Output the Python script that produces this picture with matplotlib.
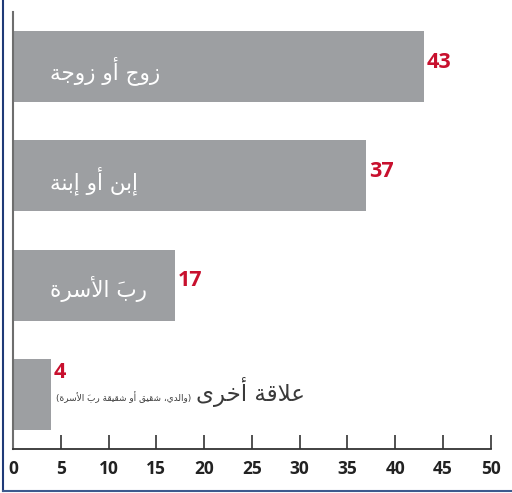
import matplotlib
matplotlib.use("Agg")
import matplotlib.pyplot as plt
from matplotlib.lines import Line2D

BAR_COLOR = "#9d9fa2"
VALUE_COLOR = "#c8102e"
TEXT_DARK = "#3a3a3a"

labels = ["زوج أو زوجة", "إبن أو إبنة", "ربَ الأسرة", "علاقة أخرى"]
note = "والدي، شقيق أو شقيقة ربَ الأسرة"
values = [43, 37, 17, 4]
ticks = [0, 5, 10, 15, 20, 25, 30, 35, 40, 45, 50]

# --- minimal Arabic shaping (matplotlib has no complex text layout) ---
FORMS = {
    "ا": (0xFE8D, 0xFE8E), "أ": (0xFE83, 0xFE84), "إ": (0xFE87, 0xFE88),
    "ة": (0xFE93, 0xFE94), "د": (0xFEA9, 0xFEAA), "ر": (0xFEAD, 0xFEAE),
    "ز": (0xFEAF, 0xFEB0), "و": (0xFEED, 0xFEEE), "ى": (0xFEEF, 0xFEF0),
    "ب": (0xFE8F, 0xFE90, 0xFE91, 0xFE92), "ج": (0xFE9D, 0xFE9E, 0xFE9F, 0xFEA0),
    "خ": (0xFEA5, 0xFEA6, 0xFEA7, 0xFEA8), "س": (0xFEB1, 0xFEB2, 0xFEB3, 0xFEB4),
    "ش": (0xFEB5, 0xFEB6, 0xFEB7, 0xFEB8), "ع": (0xFEC9, 0xFECA, 0xFECB, 0xFECC),
    "ق": (0xFED5, 0xFED6, 0xFED7, 0xFED8), "ل": (0xFEDD, 0xFEDE, 0xFEDF, 0xFEE0),
    "ن": (0xFEE5, 0xFEE6, 0xFEE7, 0xFEE8), "ي": (0xFEF1, 0xFEF2, 0xFEF3, 0xFEF4),
}
LAM_ALEF = {"ا": (0xFEFB, 0xFEFC), "أ": (0xFEF7, 0xFEF8), "إ": (0xFEF9, 0xFEFA)}
MARKS = {"\u064e", "\u0651"}


def shape(text):
    # clusters: [base, marks, forms]
    units = []
    i = 0
    while i < len(text):
        c = text[i]
        if c in MARKS and units:
            units[-1][1] += c
        elif c == "ل" and i + 1 < len(text) and text[i + 1] in LAM_ALEF:
            units.append(["LA", "", LAM_ALEF[text[i + 1]]])
            i += 1
        else:
            units.append([c, "", FORMS.get(c)])
        i += 1
    out = []
    for k, (c, m, f) in enumerate(units):
        if f is None:
            out.append(m + c)
            continue
        prev = units[k - 1][2] if k > 0 else None
        nxt = units[k + 1][2] if k + 1 < len(units) else None
        jp = prev is not None and len(prev) == 4
        jn = len(f) == 4 and nxt is not None
        if jp and jn:
            g = f[3]
        elif jp:
            g = f[1]
        elif jn:
            g = f[2]
        else:
            g = f[0]
        # the mark glyph sits to the right of its origin in DejaVu
        out.append(m + chr(g))
    return "".join(reversed(out))


fig = plt.figure(figsize=(5.12, 4.93), dpi=100)
ax = fig.add_axes([13 / 512, 1 - 449 / 493, (490.7 - 13) / 512, (449 - 12) / 493])

ypos = list(range(len(values)))
ax.barh(ypos, values, height=0.65, color=BAR_COLOR)
ax.set_xlim(0, 50)
ax.set_ylim(3.5, -0.5)

for y, v in zip(ypos, values):
    dy = -0.2 if v < 10 else -0.04
    ax.text(v + 0.25, y + dy, str(v), color=VALUE_COLOR, fontsize=15.5,
            fontweight="bold", family=["Open Sans", "DejaVu Sans"],
            ha="left", va="center")

for y, lab in zip(ypos[:3], labels[:3]):
    ax.text(3.85, y + 0.04, shape(lab), color="white", fontsize=15.5,
            family=["DejaVu Sans"], ha="left", va="center")

ax.text(30.6, 2.98, shape(labels[3]), color=TEXT_DARK, fontsize=16.5,
        family=["DejaVu Sans"], ha="right", va="center")
ax.text(18.7, 3.03, "(" + shape(note) + ")", color=TEXT_DARK, fontsize=6.4,
        family=["DejaVu Sans"], ha="right", va="center")

ax.set_xticks(ticks)
ax.set_yticks([])
ax.tick_params(axis="x", direction="in", length=10, width=1.2, color="#333333",
               pad=8, labelsize=12.5, labelcolor="#222222")
for t in ax.get_xticklabels():
    t.set_fontweight("bold")
    t.set_family(["Open Sans", "DejaVu Sans"])

for s in ["top", "right"]:
    ax.spines[s].set_visible(False)
ax.spines["left"].set_color("#6e6e6e")
ax.spines["left"].set_linewidth(1.5)
ax.spines["bottom"].set_color("#333333")
ax.spines["bottom"].set_linewidth(1.3)

# frame on left and bottom edges of the figure
fig.add_artist(Line2D([2.5 / 512, 2.5 / 512], [2.5 / 493, 1], color="#1f3a78",
                      linewidth=1.5, transform=fig.transFigure))
fig.add_artist(Line2D([2.5 / 512, 1], [2.5 / 493, 2.5 / 493], color="#3d5a8e",
                      linewidth=1.5, transform=fig.transFigure))

fig.savefig("out.png", dpi=100)
